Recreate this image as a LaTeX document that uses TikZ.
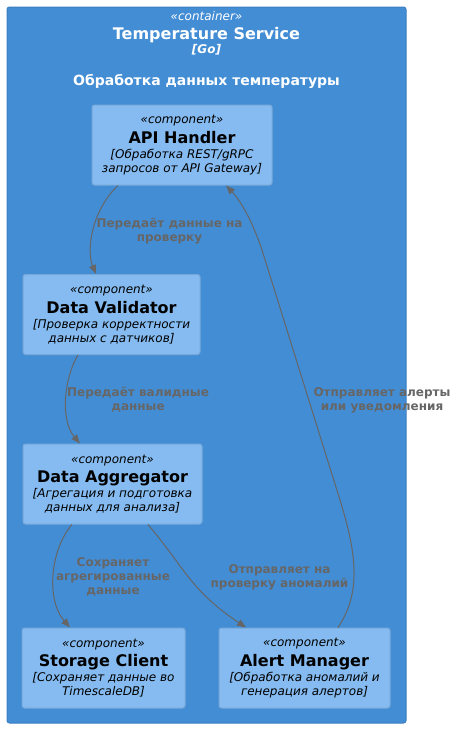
\documentclass[tikz,border=0pt]{standalone}
\usepackage{fontspec}
\setmainfont{DejaVu Sans}
\usepackage{xcolor}
\usepackage{tikz}
\usetikzlibrary{positioning}
\usetikzlibrary{arrows.meta,calc}
\definecolor{contfill}{HTML}{438DD5}
\definecolor{contline}{HTML}{3C7FC0}
\definecolor{compfill}{HTML}{85BBF0}
\definecolor{compline}{HTML}{78A8D8}
\definecolor{relgray}{HTML}{666666}
\tikzstyle{container}=[rectangle,rounded corners=2.5pt,fill=contfill,draw=contline,line width=1pt,minimum width=399pt,minimum height=716pt,inner sep=0pt]
\tikzstyle{conttext}=[text=white,align=center,inner sep=0pt,font=\fontsize{12}{13}\selectfont]
\tikzstyle{component}=[rectangle,rounded corners=2.5pt,fill=compfill,draw=compline,line width=1pt,minimum height=80pt,inner sep=0pt,align=center,font=\fontsize{12}{14}\selectfont]
\tikzstyle{rel} = [draw=relgray,line width=1pt,-{Triangle[length=9pt,width=7pt]}]
\tikzstyle{rellabel} = [text=relgray,align=center,inner sep=0pt,font=\fontsize{12}{14}\selectfont\bfseries]
\newcommand{\comptext}[3]{{\itshape «component»}\\[4pt]{\fontsize{16}{16}\selectfont\bfseries #1}\\[1pt]{\itshape #2}\\{\itshape #3}}

\begin{document}
\begin{tikzpicture}[x=1pt,y=-1pt]

   \useasboundingbox (0,0) rectangle (457,729);

   \node[container] (svc) at (206.5,365) {};
   \node[conttext,anchor=north] (svctitle) at (206.5,11) {{\itshape «container»}\\[6pt]{\fontsize{16}{16}\selectfont\bfseries Temperature Service}\\[1pt]{\bfseries\itshape [Go]}\\[19pt]{\fontsize{14}{14}\selectfont\bfseries Обработка данных температуры}};

   \node[component,minimum width=180pt] (api) at (182,145) {\comptext{API Handler}{[Обработка REST/gRPC}{запросов от API Gateway]}};
   \node[component,minimum width=177pt] (validator) at (111.5,314.5) {\comptext{Data Validator}{[Проверка корректности}{данных с датчиков]}};
   \node[component,minimum width=179pt] (aggregator) at (112.5,484) {\comptext{Data Aggregator}{[Агрегация и подготовка}{данных для анализа]}};
   \node[component,minimum width=163pt] (storage) at (103.5,668) {\comptext{Storage Client}{[Сохраняет данные во}{TimescaleDB]}};
   \node[component,minimum width=171pt] (alert) at (304.5,668) {\comptext{Alert Manager}{[Обработка аномалий и}{генерация алертов]}};

   % relations
   \draw[rel] ([xshift=-64pt]api.south) .. controls (92,210) and (86,250) .. ([xshift=-15.5pt]validator.north);
   \draw[rel] ([xshift=-33.5pt]validator.south) .. controls (64,378) and (60,420) .. ([xshift=-32.5pt]aggregator.north);
   \draw[rel] ([xshift=-40.5pt]aggregator.south) .. controls (50,550) and (46,600) .. ([xshift=-33.5pt]storage.north);
   \draw[rel] ([xshift=35.5pt]aggregator.south) .. controls (185,568) and (190,590) .. ([xshift=-58.5pt]alert.north);
   \draw[rel] ([xshift=33.5pt]alert.north) .. controls (362,592) and (356,552) .. (340,500) -- (262,250) .. controls (252,220) and (240,200) .. ([xshift=44pt]api.south);

   \node[rellabel] (lblcheck) at (169.5,231) {Передаёт данные на\\проверку};
   \node[rellabel] (lblvalid) at (138,400) {Передаёт валидные\\данные};
   \node[rellabel] (lblstore) at (113,577) {Сохраняет\\агрегированные\\данные};
   \node[rellabel] (lblanom) at (279.5,577) {Отправляет на\\проверку аномалий};
   \node[rellabel] (lblalert) at (382,400) {Отправляет алерты\\или уведомления};

\end{tikzpicture}
\end{document}
